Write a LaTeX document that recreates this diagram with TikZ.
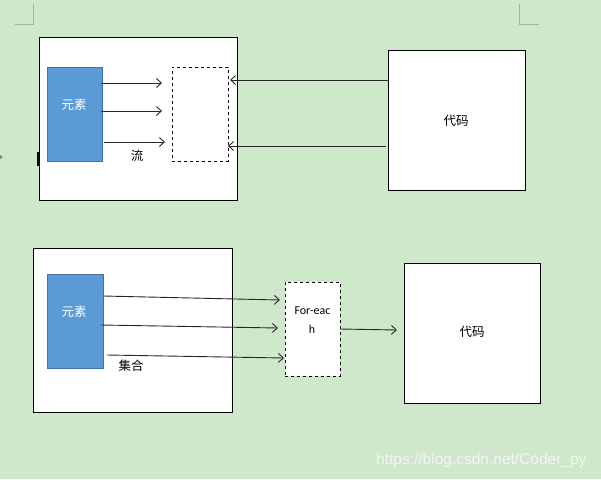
\documentclass[tikz,border=0pt]{standalone}
\usepackage{fontspec}
\setmainfont{Carlito}
\newfontfamily\cjk{Noto Sans CJK SC}
\usetikzlibrary{arrows.meta}
\definecolor{bg}{RGB}{207,232,204}
\definecolor{elemblue}{RGB}{91,155,213}
\definecolor{elemborder}{RGB}{65,113,156}
\definecolor{markgray}{RGB}{160,180,160}
\begin{document}
\begin{tikzpicture}[x=1pt,y=-1pt,
  outer/.style={draw=black,line width=0.9pt,fill=white},
  elem/.style={draw=elemborder,line width=0.7pt,fill=elemblue},
  dbox/.style={draw=black,dashed,line width=0.7pt,fill=white},
  arr/.style={draw=black!85,line width=0.9pt,-{Straight Barb[length=5pt,width=9pt]}},
  cjklabel/.style={font=\cjk\fontsize{12.5}{14}\selectfont,inner sep=0pt}]
\fill[bg] (0,0) rectangle (601,479);
\useasboundingbox (0,0) rectangle (601,479);
% corner marks
\draw[markgray,line width=0.8pt] (33,4) -- (33,24) -- (15,24);
\draw[markgray,line width=0.8pt] (519,4) -- (519,24) -- (539,24);
% top group
\node[outer,minimum width=198pt,minimum height=163pt,anchor=north west] (box1) at (39,37) {};
\node[elem,minimum width=55pt,minimum height=94pt,anchor=north west] (elem1) at (47,67) {};
\node[cjklabel,text=white] (elemtext1) at (74,105) {元素};
\node[dbox,minimum width=56pt,minimum height=94pt,anchor=north west] (stream) at (172,67) {};
\node[cjklabel] (liu) at (137,156) {流};
\node[outer,minimum width=137pt,minimum height=140pt,anchor=north west] (code1) at (388,50) {};
\node[cjklabel] (codetext1) at (456,121) {代码};
\coordinate (a1s) at (101,83); \coordinate (a1e) at (162,83);
\coordinate (a2s) at (101,111); \coordinate (a2e) at (162,111);
\coordinate (a3s) at (104,142); \coordinate (a3e) at (165,142);
\draw[arr] (a1s) -- (a1e);
\draw[arr] (a2s) -- (a2e);
\draw[arr] (a3s) -- (a3e);
\coordinate (b1s) at (388,80); \coordinate (b1e) at (230,80);
\coordinate (b2s) at (386,146); \coordinate (b2e) at (228,146);
\draw[arr] (b1s) -- (b1e);
\draw[arr] (b2s) -- (b2e);
% cursor marks
\fill[black!85!violet] (37,152) rectangle (39.5,166);
\fill[gray] (0,155) -- (3,157) -- (0,159) -- cycle;
% bottom group
\node[outer,minimum width=199pt,minimum height=164pt,anchor=north west] (box2) at (33,248) {};
\node[elem,minimum width=56pt,minimum height=94pt,anchor=north west] (elem2) at (47,274) {};
\node[cjklabel,text=white] (elemtext2) at (74,312) {元素};
\node[dbox,minimum width=55pt,minimum height=94pt,anchor=north west] (foreach) at (285,282) {};
\node[font=\fontsize{12}{14}\selectfont,inner sep=0pt] (fe1) at (312.5,311) {For-eac};
\node[font=\fontsize{12}{14}\selectfont,inner sep=0pt] (fe2) at (312,329) {h};
\node[cjklabel] (jihe) at (131,366) {集合};
\node[outer,minimum width=136pt,minimum height=140pt,anchor=north west] (code2) at (404,263) {};
\node[cjklabel] (codetext2) at (472,332) {代码};
\coordinate (c1s) at (103,296); \coordinate (c1e) at (280,300);
\coordinate (c2s) at (101,325); \coordinate (c2e) at (278,328);
\coordinate (c3s) at (107,355); \coordinate (c3e) at (284,358);
\draw[arr] (c1s) -- (c1e);
\draw[arr] (c2s) -- (c2e);
\draw[arr] (c3s) -- (c3e);
\coordinate (d1s) at (340,329); \coordinate (d1e) at (397,330);
\draw[arr] (d1s) -- (d1e);
% watermark
\node[font=\fontspec{Liberation Sans}\fontsize{15.5}{17}\selectfont,text=white!92!gray,anchor=west,inner sep=0pt] (wm) at (376,460) {https://blog.csdn.net/Coder\_py};
\end{tikzpicture}
\end{document}
